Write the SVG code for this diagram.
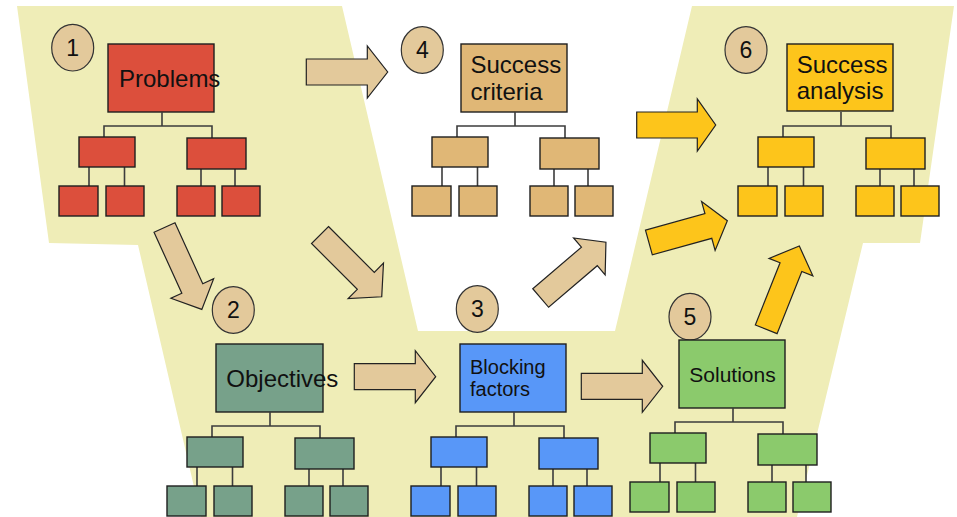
<svg xmlns="http://www.w3.org/2000/svg" xmlns:xlink="http://www.w3.org/1999/xlink" width="957" height="517" viewBox="0 0 957 517">
  <style>
    .band { fill: #efedb7; }
    .box { stroke: #1e1e1e; stroke-width: 1.4; }
    .link { fill: none; stroke: #3c3c3c; stroke-width: 1.6; }
    .badge { fill: #e3c99b; stroke: #333; stroke-width: 1.2; }
    .num { font-family: "Liberation Sans", Arial, sans-serif; font-size: 23px; fill: #111; text-anchor: middle; }
    .label { font-family: "Liberation Sans", Arial, sans-serif; fill: #111; }
    .arrow-tan { fill: #e3c99b; stroke: #222; stroke-width: 1.2; stroke-linejoin: miter; }
    .arrow-gold { fill: #fdc51b; stroke: #222; stroke-width: 1.2; stroke-linejoin: miter; }
    .red { fill: #dc4f3c; color: #dc4f3c; }
    .tan { fill: #e0b776; color: #e0b776; }
    .gold { fill: #fdc51b; color: #fdc51b; }
    .sage { fill: #77a18a; color: #77a18a; }
    .blue { fill: #5897f8; color: #5897f8; }
    .green { fill: #8bca6c; color: #8bca6c; }
  </style>
  <defs>
    <!-- two-level tree hanging below a 106x68 head box at (0,0) -->
    <g id="subtree">
      <path class="link" d="M54,68 V82 M-4,93 V82 H104 V94 M-19,123 V142 M16.5,123 V142 M93,125 V142 M127,125 V142"/>
      <g class="box" fill="currentColor">
        <rect x="-29" y="93" width="56" height="30"/>
        <rect x="79" y="94" width="59" height="31"/>
        <rect x="-49" y="142" width="39" height="30"/>
        <rect x="-2" y="142" width="38" height="30"/>
        <rect x="69" y="142" width="38" height="30"/>
        <rect x="114" y="142" width="38" height="30"/>
      </g>
    </g>
  </defs>

  <!-- pale V-shaped band behind the stages -->
  <polygon class="band" points="17,6 342,6 418,331 615,331 692,6 954,6 920,243 863,243 797,517 201,517 138,245 49,243"/>

  <!-- connectors -->
  <g id="connectors">
    <polygon class="arrow-tan" transform="translate(306.3,72)" points="0,-13 61,-13 61,-26 81.4,0 61,26 61,13 0,13"/>
    <polygon class="arrow-tan" transform="translate(164.5,227.5) rotate(65.5)" points="0,-11.5 67,-11.5 67,-23.5 90,0 67,23.5 67,11.5 0,11.5"/>
    <polygon class="arrow-tan" transform="translate(320,235) rotate(45)" points="0,-12 64.8,-12 64.8,-25 87.3,0 64.8,25 64.8,12 0,12"/>
    <polygon class="arrow-tan" transform="translate(354.3,376.7)" points="0,-13 61,-13 61,-26 81.4,0 61,26 61,13 0,13"/>
    <polygon class="arrow-tan" transform="translate(581.3,386.3)" points="0,-13 61,-13 61,-26 81.4,0 61,26 61,13 0,13"/>
    <polygon class="arrow-tan" transform="translate(540.7,298) rotate(-40.5)" points="0,-12.2 64,-12.2 64,-24.3 85.8,0 64,24.3 64,12.2 0,12.2"/>
    <polygon class="arrow-gold" transform="translate(636.7,125)" points="0,-13 60.6,-13 60.6,-26 79,0 60.6,26 60.6,13 0,13"/>
    <polygon class="arrow-gold" transform="translate(648.9,242.5) rotate(-15.5)" points="0,-12.8 61.7,-12.8 61.7,-25.3 81.4,0 61.7,25.3 61.7,12.8 0,12.8"/>
    <polygon class="arrow-gold" transform="translate(766.2,329.3) rotate(-68.3)" points="0,-11.7 66.9,-11.7 66.9,-23.6 89.6,0 66.9,23.6 66.9,11.7 0,11.7"/>
  </g>

  <!-- 1: Problems -->
  <g id="problems">
    <ellipse class="badge" cx="72.7" cy="47.7" rx="21" ry="23.3"/>
    <text class="num" x="72.7" y="56">1</text>
    <rect class="box red" x="108" y="44" width="106" height="68"/>
    <use xlink:href="#subtree" href="#subtree" class="red" transform="translate(108,44)"/>
    <text class="label" x="119" y="87" font-size="24">Problems</text>
  </g>

  <!-- 2: Objectives -->
  <g id="objectives">
    <ellipse class="badge" cx="233.3" cy="310" rx="21" ry="23.3"/>
    <text class="num" x="233.3" y="318.3">2</text>
    <rect class="box sage" x="216" y="344" width="107" height="68"/>
    <use xlink:href="#subtree" href="#subtree" class="sage" transform="translate(216,344)"/>
    <text class="label" x="226.3" y="386.7" font-size="24">Objectives</text>
  </g>

  <!-- 3: Blocking factors -->
  <g id="blocking-factors">
    <ellipse class="badge" cx="477.3" cy="309" rx="21" ry="23.3"/>
    <text class="num" x="477.3" y="317.3">3</text>
    <rect class="box blue" x="460" y="344" width="106" height="68"/>
    <use xlink:href="#subtree" href="#subtree" class="blue" transform="translate(460,344)"/>
    <text class="label" font-size="20"><tspan x="470" y="374.3">Blocking</tspan><tspan x="470" y="395.7">factors</tspan></text>
  </g>

  <!-- 4: Success criteria -->
  <g id="success-criteria">
    <ellipse class="badge" cx="422.3" cy="50" rx="21" ry="23.3"/>
    <text class="num" x="422.3" y="58.3">4</text>
    <rect class="box tan" x="461" y="44" width="106" height="68"/>
    <use xlink:href="#subtree" href="#subtree" class="tan" transform="translate(461,44)"/>
    <text class="label" font-size="24"><tspan x="470.5" y="72.7">Success</tspan><tspan x="470.5" y="100">criteria</tspan></text>
  </g>

  <!-- 5: Solutions -->
  <g id="solutions">
    <ellipse class="badge" cx="690" cy="316.7" rx="21" ry="23.3"/>
    <text class="num" x="690" y="325">5</text>
    <rect class="box green" x="679" y="340" width="106" height="68"/>
    <use xlink:href="#subtree" href="#subtree" class="green" transform="translate(679,340)"/>
    <text class="label" x="689.3" y="381.7" font-size="21">Solutions</text>
  </g>

  <!-- 6: Success analysis -->
  <g id="success-analysis">
    <ellipse class="badge" cx="746" cy="50" rx="21" ry="23.3"/>
    <text class="num" x="746" y="58.3">6</text>
    <rect class="box gold" x="787" y="44" width="106" height="67"/>
    <use xlink:href="#subtree" href="#subtree" class="gold" transform="translate(787,44)"/>
    <text class="label" font-size="24"><tspan x="796.7" y="72.7">Success</tspan><tspan x="796.7" y="99.3">analysis</tspan></text>
  </g>
</svg>
